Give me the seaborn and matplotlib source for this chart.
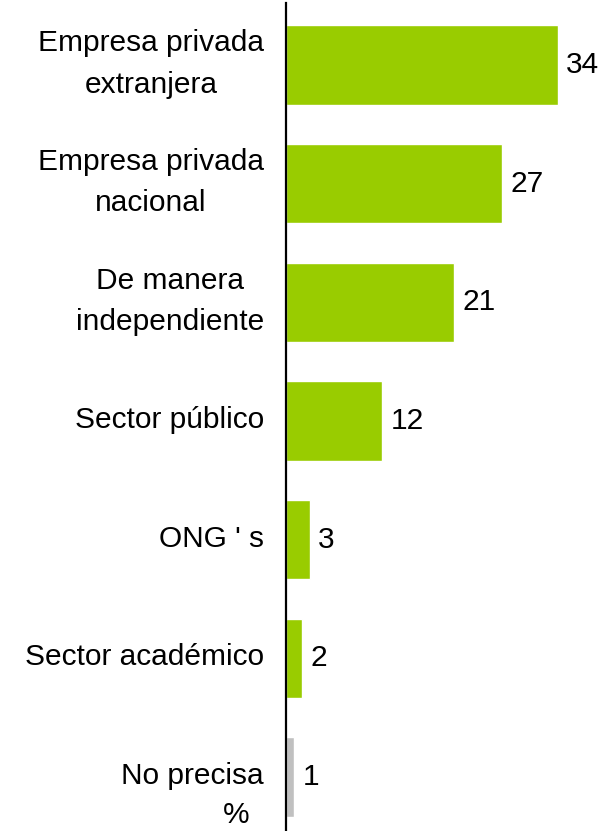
import matplotlib
matplotlib.use("Agg")
import matplotlib.pyplot as plt
import matplotlib.transforms as mtransforms
import seaborn as sns
import pandas as pd

categories = ["Empresa privada\nextranjera", "Empresa privada\nnacional", "De manera\nindependiente",
              "Sector público", "ONG ' s", "Sector académico", "No precisa"]
values = [34, 27, 21, 12, 3, 2, 1]
colors = ["#99CC00"] * 6 + ["#C0C0C0"]

sns.set_theme(style="white")
plt.rcParams['font.family'] = ['Liberation Sans', 'DejaVu Sans']

W, H = 609, 831
fig = plt.figure(figsize=(W / 100, H / 100), dpi=100)
ax = fig.add_axes([286 / W, 0, (W - 286) / W, (H - 3) / H])

df = pd.DataFrame({"cat": categories, "val": values})
sns.barplot(data=df, x="val", y="cat", hue="cat", palette=colors, legend=False,
            width=0.67, orient="h", saturation=1, ax=ax)

ax.set_xlim(0, (W - 286) / 8)
ax.set_ylim(6.455, -0.522)
ax.set_xlabel("")
ax.set_ylabel("")
ax.set_xticks([])
for s in ["top", "right", "bottom"]:
    ax.spines[s].set_visible(False)
ax.spines["left"].set_color("black")
ax.spines["left"].set_linewidth(1.6)
ax.tick_params(axis="y", length=0, pad=16, labelsize=21.5, colors="black")
offset = mtransforms.ScaledTranslation(0, 1 / 100, fig.dpi_scale_trans)
for lab in ax.get_yticklabels():
    lab.set_linespacing(1.6)
    lab.set_ha("right")
    lab.set_multialignment("center")
    lab.set_va("center")
    lab.set_transform(lab.get_transform() + offset)

for c in ax.containers:
    ax.bar_label(c, fmt="%d", padding=6, fontsize=21.5, color="black")

fig.text(236 / W, 1 - 815 / H, "%", fontsize=21.5, ha="center", va="center", color="black")

fig.savefig("out.png", dpi=100)
